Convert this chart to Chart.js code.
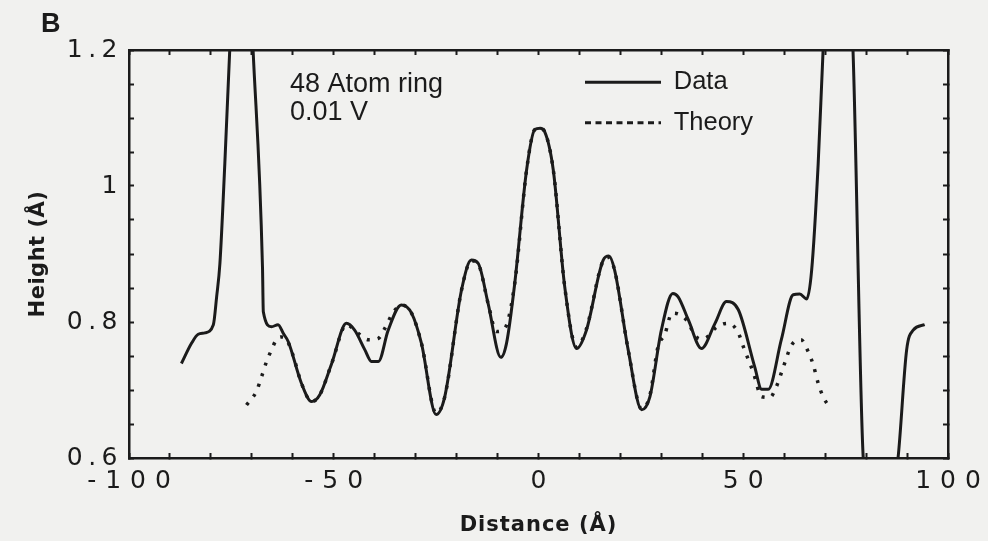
<!DOCTYPE html>
<html><head><meta charset="utf-8">
<script src="https://cdn.jsdelivr.net/npm/chart.js@4/dist/chart.umd.min.js"></script>
<style>
html,body{margin:0;padding:0;background:#f1f1ef;}
canvas{display:block;}
</style></head><body>
<canvas id="c" width="988" height="541"></canvas>
<script>
// ---- data ----
const seriesNames = ['Data', 'Theory'];
const dataX = [-87.2,-84.7,-83.1,-81.5,-79.4,-78.6,-77.8,-76.6,-75.4,-72.5,-69.7,-67.4,-67.2,-65.2,-63.6,-62.3,-61.1,-57.9,-55.4,-53.4,-50.5,-46.9,-44.9,-42.4,-40.8,-39.1,-36.7,-33.5,-31.0,-28.6,-25.0,-22.9,-18.8,-16.4,-14.7,-12.3,-9.2,-7.8,-5.8,-2.9,-0.9,0.4,1.5,3.6,6.4,9.3,11.7,15.8,17.2,18.6,21.9,25.2,27.2,30.0,32.8,34.1,36.6,39.8,43.1,45.9,48.8,52.8,54.5,56.1,59.3,62.2,63.8,65.5,66.7,68.3,69.5,73.0,76.8,79.3,83.5,87.8,89.9,91.5,94.3];
const dataY = [0.739,0.769,0.782,0.784,0.796,0.837,0.886,1.033,1.200,1.550,1.200,0.880,0.815,0.793,0.796,0.783,0.771,0.710,0.683,0.693,0.739,0.798,0.788,0.759,0.742,0.742,0.788,0.825,0.813,0.769,0.664,0.690,0.847,0.891,0.886,0.827,0.748,0.769,0.857,1.024,1.083,1.085,1.080,1.024,0.852,0.761,0.788,0.891,0.897,0.876,0.759,0.671,0.690,0.788,0.842,0.837,0.803,0.761,0.798,0.830,0.818,0.734,0.701,0.701,0.774,0.840,0.841,0.834,0.876,1.033,1.200,1.600,1.200,0.600,0.450,0.600,0.759,0.788,0.796];
const theoryX = [-71.3,-68.9,-67.6,-66.4,-65.2,-64.0,-62.8,-61.5,-60.0,-57.9,-55.4,-53.4,-50.5,-46.9,-44.0,-41.6,-39.1,-37.5,-35.9,-34.7,-33.5,-31.0,-28.6,-25.0,-22.9,-18.8,-16.4,-14.7,-12.3,-10.3,-8.2,-5.8,-2.9,-0.9,0.4,1.5,3.6,6.4,9.3,11.7,15.8,17.2,18.6,21.9,25.2,27.2,29.2,30.8,32.6,34.0,36.5,38.0,39.5,41.0,43.0,45.0,46.5,48.8,50.0,52.5,54.5,56.5,58.1,59.8,61.8,64.1,65.9,67.1,68.3,69.5,70.9];
const theoryY = [0.678,0.698,0.720,0.742,0.759,0.774,0.778,0.774,0.752,0.710,0.683,0.693,0.739,0.796,0.783,0.774,0.776,0.791,0.810,0.820,0.825,0.813,0.769,0.666,0.690,0.847,0.890,0.885,0.827,0.786,0.791,0.857,1.024,1.083,1.085,1.080,1.024,0.852,0.763,0.790,0.890,0.895,0.876,0.759,0.672,0.692,0.764,0.781,0.813,0.812,0.800,0.782,0.775,0.777,0.790,0.797,0.798,0.784,0.764,0.725,0.690,0.689,0.705,0.734,0.766,0.774,0.756,0.737,0.710,0.690,0.676];
const xLabelValues = [-100, -50, 0, 50, 100];
const yLabelValues = [0.6, 0.8, 1, 1.2];
const xTitle = 'Distance (Å)';
const yTitle = 'Height (Å)';
const annotationLines = ['48 Atom ring', '0.01 V'];
const panelLetter = 'B';

// ---- styling ----
const INK = '#1b1b1b';
const FONT = '"Liberation Sans", Arial, Helvetica, sans-serif';
const WIDE = '"DejaVu Sans", Verdana, sans-serif';
const LETTER_SPACING = { x: { ticks: '9px', title: '1px' }, y: { ticks: '5.5px', title: '0.5px' } };

['drawLabels', 'drawTitle'].forEach(name => {
  const orig = Chart.Scale.prototype[name];
  Chart.Scale.prototype[name] = function (...args) {
    const ctx = this.ctx;
    const spec = LETTER_SPACING[this.id];
    const has = 'letterSpacing' in ctx;
    const prev = has ? ctx.letterSpacing : null;
    if (spec && has) ctx.letterSpacing = name === 'drawLabels' ? spec.ticks : spec.title;
    orig.apply(this, args);
    if (has) ctx.letterSpacing = prev;
  };
});

const pts = (xs, ys) => xs.map((x, i) => ({ x, y: ys[i] }));
const isLabel = (v, list) => list.some(l => Math.abs(l - v) < 1e-6);

const legendPlace = {
  id: 'legendPlace',
  afterLayout(chart) {
    const lg = chart.legend;
    if (!lg) return;
    lg.left = 570; lg.top = 54.5;
    lg.right = lg.left + 260; lg.bottom = lg.top + 110;
    lg.width = 260; lg.height = 110;
    if (lg.adjustHitBoxes) lg.adjustHitBoxes();
  }
};

const annotations = {
  id: 'annotations',
  afterDraw(chart) {
    const ctx = chart.ctx;
    ctx.save();
    ctx.fillStyle = INK;
    ctx.textAlign = 'left';
    ctx.textBaseline = 'alphabetic';
    ctx.font = '27px ' + FONT;
    ctx.fillText(annotationLines[0], 290, 92);
    ctx.fillText(annotationLines[1], 290, 120);
    ctx.font = 'bold 27px ' + FONT;
    ctx.fillText(panelLetter, 41, 32);
    ctx.restore();
  }
};

const gridCommon = {
  display: true, drawOnChartArea: false, drawTicks: true,
  tickLength: -5, tickWidth: 2, tickColor: INK, color: INK
};
const borderCommon = { display: true, color: INK, width: 2.5 };

new Chart(document.getElementById('c'), {
  type: 'line',
  data: {
    datasets: [
      {
        label: seriesNames[0],
        data: pts(dataX, dataY),
        borderColor: INK, backgroundColor: INK,
        borderWidth: 3, pointRadius: 0, fill: false,
        cubicInterpolationMode: 'monotone',
        xAxisID: 'x', yAxisID: 'y'
      },
      {
        label: seriesNames[1],
        data: pts(theoryX, theoryY),
        borderColor: INK, backgroundColor: INK,
        borderWidth: 3.5, borderDash: [3, 8], borderCapStyle: 'butt',
        pointRadius: 0, fill: false,
        cubicInterpolationMode: 'monotone',
        xAxisID: 'x', yAxisID: 'y'
      }
    ]
  },
  options: {
    responsive: false,
    animation: false,
    devicePixelRatio: 1,
    layout: { padding: { top: 50, right: 40, bottom: 0, left: 0 } },
    plugins: {
      title: { display: false },
      tooltip: { enabled: false },
      legend: {
        display: true,
        position: 'chartArea',
        align: 'start',
        labels: {
          usePointStyle: true,
          pointStyle: 'line',
          pointStyleWidth: 76,
          boxWidth: 76,
          padding: 15,
          color: INK,
          font: { family: FONT, size: 25.5 },
          generateLabels(chart) {
            const items = Chart.defaults.plugins.legend.labels.generateLabels(chart);
            items.forEach((it, i) => {
              it.strokeStyle = INK;
              it.fillStyle = INK;
              it.lineWidth = 3;
              if (i === 1) { it.lineDash = [6, 4.5]; it.lineCap = 'butt'; }
              else { it.lineDash = []; }
            });
            return items;
          }
        }
      }
    },
    scales: {
      x: {
        type: 'linear', position: 'bottom', min: -100, max: 100,
        grid: gridCommon, border: borderCommon,
        ticks: {
          stepSize: 10, autoSkip: false, maxRotation: 0, minRotation: 0,
          padding: 13, labelOffset: 4.5, color: INK,
          font: { family: WIDE, size: 25 },
          callback: v => isLabel(v, xLabelValues) ? String(v) : ''
        },
        title: {
          display: true, text: xTitle, color: INK,
          font: { family: WIDE, size: 21, weight: 'bold' },
          padding: { top: 0, bottom: 3 }
        },
        afterFit(s) { s.height = 83; s.paddingLeft = 0; s.paddingRight = 0; }
      },
      x2: {
        type: 'linear', position: 'top', min: -100, max: 100,
        grid: gridCommon, border: borderCommon,
        ticks: { stepSize: 10, display: false, autoSkip: false },
        afterFit(s) { s.height = 0; s.paddingLeft = 0; s.paddingRight = 0; }
      },
      y: {
        type: 'linear', position: 'left', min: 0.6, max: 1.2,
        grid: gridCommon, border: borderCommon,
        ticks: {
          stepSize: 0.05, autoSkip: false, padding: 11, color: INK,
          font: { family: WIDE, size: 25 },
          callback: v => isLabel(v, yLabelValues) ? String(Math.round(v * 100) / 100) : ''
        },
        title: {
          display: true, text: yTitle, color: INK,
          font: { family: WIDE, size: 21, weight: 'bold' },
          padding: { top: 26, bottom: 0 }
        },
        afterFit(s) { s.width = 129; s.paddingTop = 0; s.paddingBottom = 0; }
      },
      y2: {
        type: 'linear', position: 'right', min: 0.6, max: 1.2,
        grid: gridCommon, border: borderCommon,
        ticks: { stepSize: 0.05, display: false, autoSkip: false },
        afterFit(s) { s.width = 0; s.paddingTop = 0; s.paddingBottom = 0; }
      }
    }
  },
  plugins: [legendPlace, annotations]
});
</script>
</body></html>
